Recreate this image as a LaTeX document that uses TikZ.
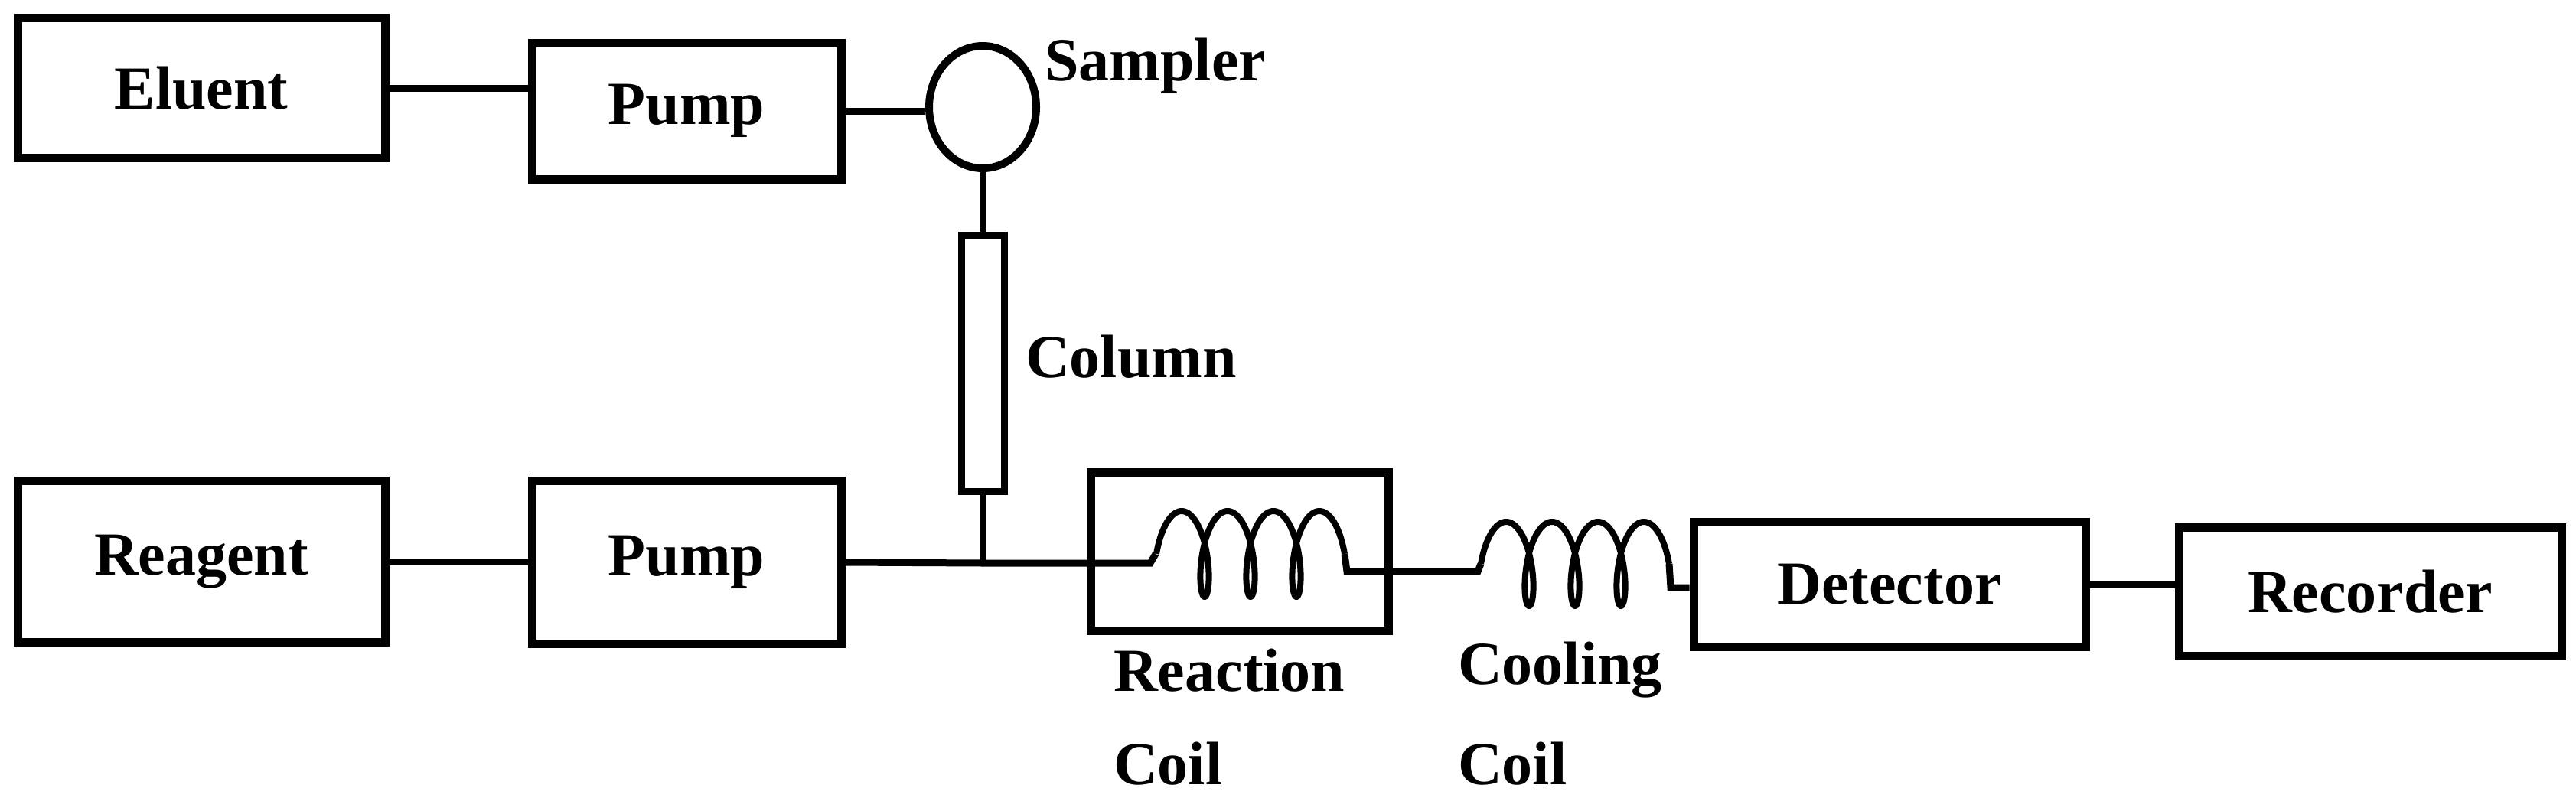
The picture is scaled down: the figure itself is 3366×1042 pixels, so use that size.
\documentclass[tikz,border=0pt]{standalone}
\usepackage{fontspec}
\setmainfont{Liberation Serif}
\usetikzlibrary{shapes.geometric}
\begin{document}
\begin{tikzpicture}[x=1pt,y=-1pt,
  box/.style={draw,line width=11pt,rectangle,inner sep=0pt,font=\fontsize{80}{96}\selectfont\bfseries},
  lbl/.style={inner sep=0pt,font=\fontsize{80}{96}\selectfont\bfseries},
  con/.style={line width=9pt}]
\useasboundingbox (0,0) rectangle (3366,1042);
\node[box,minimum width=480pt,minimum height=183pt] (el) at (263,115) {Eluent};
\node[box,minimum width=404pt,minimum height=178pt] (p1) at (897,145) {Pump};
\node[draw,line width=10pt,ellipse,minimum width=140pt,minimum height=160pt,inner sep=0pt] (s) at (1284,140) {};
\node[lbl,anchor=west] (sl) at (1365,86) {Sampler};
\node[draw,line width=9pt,rectangle,minimum width=56pt,minimum height=335pt,inner sep=0pt] (col) at (1284,475) {};
\node[lbl,anchor=west] (cl) at (1340,466) {Column};
\node[box,minimum width=480pt,minimum height=211pt] (re) at (263,734) {Reagent};
\node[box,minimum width=404pt,minimum height=213pt] (p2) at (897,735) {Pump};
\node[box,minimum width=389pt,minimum height=207pt] (rb) at (1620,721) {};
\node[box,minimum width=512pt,minimum height=163pt] (det) at (2469,764) {Detector};
\node[box,minimum width=500pt,minimum height=168pt] (rec) at (3097,773) {Recorder};
\node[lbl,anchor=west] (rl1) at (1455,876) {Reaction};
\node[lbl,anchor=west] (rl2) at (1455,998) {Coil};
\node[lbl,anchor=west] (cl1) at (1905,876) {Cooling};
\node[lbl,anchor=west] (cl2) at (1905,998) {Coil};
\coordinate (j) at (1284,736);
\coordinate (c1a) at (1503,736);
\coordinate (c1b) at (1510,724);
\coordinate (c1c) at (1757,724);
\coordinate (c1d) at (1760,747);
\coordinate (c2a) at (1931,747);
\coordinate (c2b) at (1935,737);
\coordinate (c2c) at (2181,737);
\coordinate (c2d) at (2183,768);
\draw[con] (el.east) -- (el.east -| p1.west);
\draw[con] (p1.east) -- (p1.east -| s.west);
\draw[con,line width=7pt] (s.south) -- (col.north);
\draw[con,line width=7pt] (col.south) -- (j);
\draw[con] (re.east) -- (re.east -| p2.west);
\draw[con] (p2.east) -- (j) -- (c1a) -- (c1b);
\draw[line width=8pt,line join=round] plot[domain=-90:1170,samples=300,variable=\t] ({1544+\t/360*60+18*sin(\t)},{668+56*(1-cos(\t))});
\draw[con] (c1c) -- (c1d) -- (c2a) -- (c2b);
\draw[line width=8pt,line join=round] plot[domain=-90:1170,samples=300,variable=\t] ({1968+\t/360*60+18*sin(\t)},{682+55*(1-cos(\t))});
\draw[con] (c2c) -- (c2d) -- (det.west |- c2d);
\draw[con] (det.east) -- (det.east -| rec.west);
\end{tikzpicture}
\end{document}
